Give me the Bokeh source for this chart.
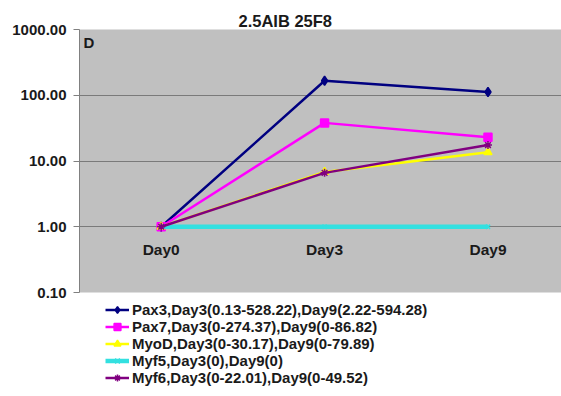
from bokeh.plotting import figure
from bokeh.layouts import column
from bokeh.models import Range1d, FixedTicker, Label, Legend, LegendItem, ColumnDataSource
from bokeh.core.properties import value
from bokeh.embed import file_html
from bokeh.resources import INLINE

# ---- data ----
title_text = "2.5AIB 25F8"
panel_letter = "D"
days = ["Day0", "Day3", "Day9"]
pax3 = [1.0, 166.0, 112.0]
pax7 = [1.0, 38.0, 23.0]
myod = [1.0, 6.8, 13.6]
myf5 = [1.0, 1.0, 1.0]
myf6 = [1.0, 6.6, 17.5]
series_labels = [
    "Pax3,Day3(0.13-528.22),Day9(2.22-594.28)",
    "Pax7,Day3(0-274.37),Day9(0-86.82)",
    "MyoD,Day3(0-30.17),Day9(0-79.89)",
    "Myf5,Day3(0),Day9(0)",
    "Myf6,Day3(0-22.01),Day9(0-49.52)",
]
y_ticks = [0.1, 1, 10, 100, 1000]
y_tick_labels = ["0.10", "1.00", "10.00", "100.00", "1000.00"]

FONT = "Liberation Sans"
TXT = "#1a1a1a"
x_idx = list(range(len(days)))
x_start, x_end = -0.5, 2.45

p = figure(width=561, height=300, output_backend="svg", toolbar_location=None,
           y_axis_type="log", x_axis_location=None,
           x_range=Range1d(x_start, x_end), y_range=Range1d(y_ticks[0], y_ticks[-1]),
           min_border_left=79, min_border_top=29, min_border_right=0, min_border_bottom=8)
p.background_fill_color = "#c0c0c0"
p.border_fill_color = "white"
p.outline_line_color = None

p.title.text = title_text
p.title.align = "left"
p.title.offset = 159
p.title.standoff = 0
p.title.text_font = FONT
p.title.text_font_style = "bold"
p.title.text_font_size = "16.5px"
p.title.text_color = TXT

p.xgrid.visible = False
p.ygrid.grid_line_color = "#7a7a7a"
p.ygrid.grid_line_width = 1
p.yaxis.ticker = FixedTicker(ticks=y_ticks, minor_ticks=[])
p.yaxis.major_label_overrides = {t: l for t, l in zip(y_ticks, y_tick_labels)}
p.yaxis.axis_line_color = "#808080"
p.yaxis.major_tick_line_color = "#808080"
p.yaxis.major_tick_out = 6
p.yaxis.major_tick_in = 0
p.yaxis.minor_tick_line_color = None
p.yaxis.major_label_standoff = 7
p.yaxis.major_label_text_font = FONT
p.yaxis.major_label_text_font_style = "bold"
p.yaxis.major_label_text_font_size = "15px"
p.yaxis.major_label_text_color = TXT

styles = [
    (pax3, "#000080", "diamond", 9, 2.5),
    (pax7, "#ff00ff", "square", 8, 2.5),
    (myod, "#ffff00", "triangle", 8, 2.5),
    (myf5, "#33e0e0", "x", 6, 4.5),
    (myf6, "#800080", "asterisk", 8, 2.5),
]

# legend strip below the plot (its ranges keep the series themselves out of view)
q = figure(width=561, height=96, output_backend="svg", toolbar_location=None,
           x_axis_location=None, y_axis_location=None,
           x_range=Range1d(100, 101), y_range=Range1d(100, 101),
           min_border_left=79, min_border_top=0, min_border_right=0, min_border_bottom=0)
q.grid.visible = False
q.outline_line_color = None
q.background_fill_color = "white"
q.border_fill_color = "white"

items = []
for (vals, col, mk, sz, lw), lab in zip(styles, series_labels):
    src = ColumnDataSource(dict(x=x_idx, y=vals))
    p.line("x", "y", source=src, line_color=col, line_width=lw)
    p.scatter("x", "y", source=src, marker=mk, size=sz, fill_color=col, line_color=col, line_width=1.5)
    l1 = q.line("x", "y", source=src, line_color=col, line_width=lw)
    l2 = q.scatter("x", "y", source=src, marker=mk, size=sz, fill_color=col, line_color=col, line_width=1.5)
    items.append(LegendItem(label=lab, renderers=[l1, l2]))

# category labels along the axis that crosses at 1
lab_src = ColumnDataSource(dict(x=x_idx, y=[1.0] * len(days), t=days))
p.text("x", "y", text="t", source=lab_src, text_align="center", text_baseline="middle",
       y_offset=23, text_font=value(FONT), text_font_style="bold", text_font_size="15.5px",
       text_color=TXT)

p.add_layout(Label(x=x_start, y=y_ticks[-1], x_offset=4, y_offset=-4, text=panel_letter,
                   text_align="left", text_baseline="top", text_font=FONT,
                   text_font_style="bold", text_font_size="15px", text_color=TXT))

legend = Legend(items=items, location=(26, 10), orientation="vertical",
                padding=0, margin=0, spacing=0, label_height=17, glyph_height=17, glyph_width=24,
                label_standoff=3, background_fill_alpha=0, border_line_alpha=0,
                label_text_font=FONT, label_text_font_style="bold", label_text_font_size="15px",
                label_text_color=TXT)
q.add_layout(legend)

layout = column(p, q, spacing=0)
open("out.html", "w").write(file_html(layout, INLINE))
